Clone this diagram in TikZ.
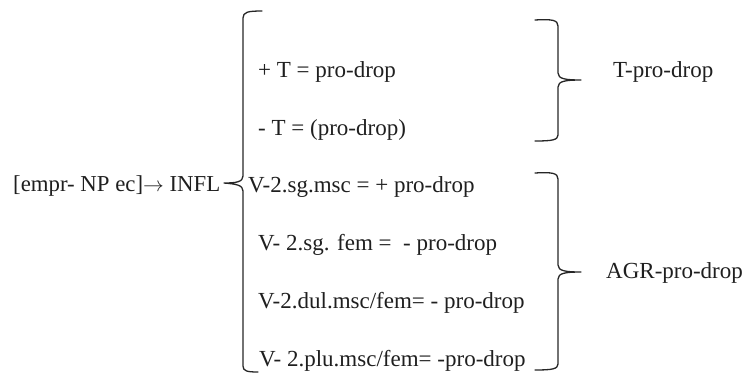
\documentclass[tikz,border=0pt]{standalone}
\usepackage{fontspec}
\setmainfont{Liberation Serif}
\begin{document}
\begin{tikzpicture}[x=1pt,y=-1pt,
  txt/.style={anchor=base west,inner sep=0pt,text=black!88,font=\fontsize{23}{27}\selectfont},
  brace/.style={draw=black!85,line width=1.3pt,line cap=round,line join=round}]
\useasboundingbox (0,0) rectangle (743,376);
% texts
\node[txt,font=\fontsize{22.8}{27}\selectfont] (src) at (13,191) {[empr- NP ec]$\rightarrow$ INFL};
\node[txt] (a1) at (258,77) {+ T = pro-drop};
\node[txt] (a2) at (258,135) {- T = (pro-drop)};
\node[txt] (b1) at (248,192) {V-2.sg.msc = + pro-drop};
\node[txt] (b2) at (258,250) {V- 2.sg. fem =\ \ - pro-drop};
\node[txt] (b3) at (258,308) {V-2.dul.msc/fem= - pro-drop};
\node[txt] (b4) at (259,366) {V- 2.plu.msc/fem= -pro-drop};
\node[txt] (t) at (613,77) {T-pro-drop};
\node[txt] (agr) at (606,278) {AGR-pro-drop};
% left brace
\path[brace] (262,11) .. controls (248,11) and (243,12) .. (243,18)
  -- (243,176) .. controls (243,182) and (236,183) .. (224,183)
  .. controls (236,184) and (243,185) .. (243,191)
  -- (243,366) .. controls (243,371) and (247,372) .. (258,372);
% right brace 1
\path[brace] (535,20) .. controls (552,19) and (558,20) .. (558,26)
  -- (558,73) .. controls (558,79) and (566,80) .. (581,80)
  .. controls (566,80) and (558,81) .. (558,87)
  -- (558,135) .. controls (558,140) and (552,141) .. (535,141);
% right brace 2
\path[brace] (535,173) .. controls (552,172) and (558,173) .. (558,179)
  -- (558,265) .. controls (558,271) and (566,272) .. (581,272)
  .. controls (566,272) and (558,273) .. (558,279)
  -- (558,364) .. controls (558,369) and (552,370) .. (535,370);
\end{tikzpicture}
\end{document}
